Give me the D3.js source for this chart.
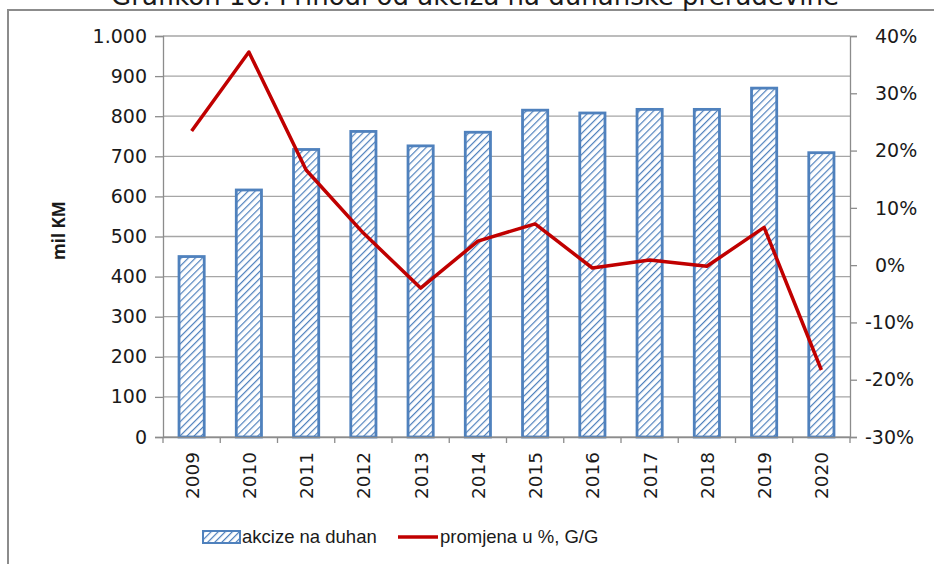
<!DOCTYPE html>
<html>
<head>
<meta charset="utf-8">
<script src="https://cdn.jsdelivr.net/npm/d3@7"></script>
<style>
  body { margin: 0; background: #fff; }
  text { font-family: "DejaVu Sans", Verdana, sans-serif; fill: #1a1a1a; }
</style>
</head>
<body>
<svg id="chart" width="934" height="564"></svg>
<script>
// chart data
let years = ["2009", "2010", "2011", "2012", "2013", "2014", "2015", "2016", "2017", "2018", "2019", "2020"];
let excise = [450, 616, 717, 762, 726, 760, 815, 808, 817, 817, 870, 709];
let change = [23.4, 37.2, 16.6, 5.6, -4.0, 4.2, 7.2, -0.5, 0.9, -0.2, 6.6, -18.3];
let leftTicks = [0, 100, 200, 300, 400, 500, 600, 700, 800, 900, 1000];
let rightTicks = [-30, -20, -10, 0, 10, 20, 30, 40];

let title = "Grafikon 16: Prihodi od akciza na duhanske prerađevine";
let yLabel = "mil KM";
let legendNames = ["akcize na duhan", "promjena u %, G/G"];

// plot area
let margin = { top: 36, right: 84, bottom: 127, left: 163 };
let width = 934, height = 564;
let svg = d3.select("#chart");

let defs = svg.append("defs");
let pat = defs.append("pattern")
  .attr("id", "hatch")
  .attr("patternUnits", "userSpaceOnUse")
  .attr("width", 5)
  .attr("height", 5)
  .attr("patternTransform", "rotate(45)");
pat.append("rect").attr("width", 5).attr("height", 5).attr("fill", "#fff");
pat.append("line")
  .attr("x1", 0).attr("y1", 0).attr("x2", 0).attr("y2", 5)
  .attr("stroke", "#4f81bd").attr("stroke-width", 2.4);

// outer frame
svg.append("rect")
  .attr("x", 8).attr("y", 10)
  .attr("width", 940).attr("height", 570)
  .attr("fill", "none")
  .attr("stroke", "#8c8c8c")
  .attr("stroke-width", 2);

// title (cut off at top like the source)
svg.append("text")
  .attr("x", 475)
  .attr("y", 5)
  .attr("text-anchor", "middle")
  .style("font-size", "26px")
  .text(title);

let x = d3.scaleBand()
  .domain(years)
  .range([margin.left, width - margin.right])
  .paddingInner(0.56)
  .paddingOuter(0.28);

let y = d3.scaleLinear()
  .domain([0, 1000])
  .range([height - margin.bottom, margin.top]);

let y2 = d3.scaleLinear()
  .domain([-30, 40])
  .range([height - margin.bottom, margin.top]);

// gridlines
svg.append("g")
  .selectAll("line")
  .data(leftTicks)
  .enter()
  .append("line")
  .attr("x1", margin.left)
  .attr("x2", width - margin.right)
  .attr("y1", (d) => y(d))
  .attr("y2", (d) => y(d))
  .attr("stroke", "#a6a6a6")
  .attr("stroke-width", 1.3);

// bars
svg.append("g")
  .selectAll("rect")
  .data(years)
  .enter()
  .append("rect")
  .attr("x", (d) => x(d))
  .attr("y", (d, i) => y(excise[i]))
  .attr("width", x.bandwidth())
  .attr("height", (d, i) => y(0) - y(excise[i]))
  .attr("fill", "url(#hatch)")
  .attr("stroke", "#4f81bd")
  .attr("stroke-width", 2.8);

// left axis
let leftAxis = svg.append("g")
  .attr("transform", "translate(" + margin.left + ",0)")
  .call(d3.axisLeft(y)
    .tickValues(leftTicks)
    .tickSize(8)
    .tickPadding(8)
    .tickFormat((d) => d3.format(",")(d).replace(",", ".")));

// right axis (labels drawn separately, Excel style alignment)
let rightAxis = svg.append("g")
  .attr("transform", "translate(" + (width - margin.right) + ",0)")
  .call(d3.axisRight(y2)
    .tickValues(rightTicks)
    .tickSize(7)
    .tickFormat(""));

rightAxis.selectAll(".pct")
  .data(rightTicks)
  .enter()
  .append("text")
  .attr("class", "pct")
  .attr("x", (d) => (d < 0 ? 15 : 25))
  .attr("y", (d) => y2(d))
  .attr("dy", "0.35em")
  .style("font-size", "19px")
  .text((d) => (d < 0 ? "-" + Math.abs(d) : d) + "%");

// bottom axis
let xAxis = svg.append("g")
  .attr("transform", "translate(0," + y(0) + ")")
  .call(d3.axisBottom(x).tickSize(0).tickFormat(""));

let bounds = years.map((d) => x(d) - x.step() * x.paddingInner() / 2);
bounds.push(width - margin.right);
xAxis.selectAll(".sep")
  .data(bounds)
  .enter()
  .append("line")
  .attr("class", "sep")
  .attr("x1", (d) => d).attr("x2", (d) => d)
  .attr("y1", 0).attr("y2", 6)
  .attr("stroke", "#8c8c8c")
  .attr("stroke-width", 1.3);

xAxis.selectAll(".yr")
  .data(years)
  .enter()
  .append("text")
  .attr("class", "yr")
  .attr("transform", (d) => "translate(" + (x(d) + x.bandwidth() / 2 + 7) + ",15) rotate(-90)")
  .attr("text-anchor", "end")
  .attr("fill", "#1a1a1a")
  .style("font-size", "18.5px")
  .text((d) => d);

[leftAxis, rightAxis, xAxis].forEach(function (a) {
  a.selectAll(".domain").attr("stroke", "#8c8c8c").attr("stroke-width", 1.3);
  a.selectAll(".tick line").attr("stroke", "#8c8c8c").attr("stroke-width", 1.3);
  a.selectAll(".tick text")
    .attr("fill", "#1a1a1a")
    .style("font-family", "'DejaVu Sans', Verdana, sans-serif")
    .style("font-size", "19px");
});

// line for yearly change
let line = d3.line()
  .x((d, i) => x(years[i]) + x.bandwidth() / 2)
  .y((d) => y2(d));

svg.append("path")
  .datum(change)
  .attr("d", line)
  .attr("fill", "none")
  .attr("stroke", "#c00000")
  .attr("stroke-width", 3.5)
  .attr("stroke-linejoin", "round");

// y label
svg.append("text")
  .attr("transform", "translate(65," + (y(500) - 6) + ") rotate(-90)")
  .attr("text-anchor", "middle")
  .style("font-family", "'Open Sans', 'Liberation Sans', sans-serif")
  .style("font-size", "17px")
  .style("font-weight", "bold")
  .text(yLabel);

// legend
let legend = svg.append("g").attr("transform", "translate(0,537)");
legend.append("rect")
  .attr("x", 203).attr("y", -6)
  .attr("width", 37).attr("height", 12)
  .attr("fill", "url(#hatch)")
  .attr("stroke", "#4f81bd")
  .attr("stroke-width", 2);
legend.append("text")
  .attr("x", 242).attr("y", 0).attr("dy", "0.35em")
  .style("font-family", "'Liberation Sans', Arial, sans-serif")
  .style("font-size", "18.5px")
  .text(legendNames[0]);
legend.append("line")
  .attr("x1", 398).attr("x2", 438)
  .attr("y1", 0).attr("y2", 0)
  .attr("stroke", "#c00000")
  .attr("stroke-width", 3.5);
legend.append("text")
  .attr("x", 440).attr("y", 0).attr("dy", "0.35em")
  .style("font-family", "'Liberation Sans', Arial, sans-serif")
  .style("font-size", "18.5px")
  .text(legendNames[1]);
</script>
</body>
</html>
